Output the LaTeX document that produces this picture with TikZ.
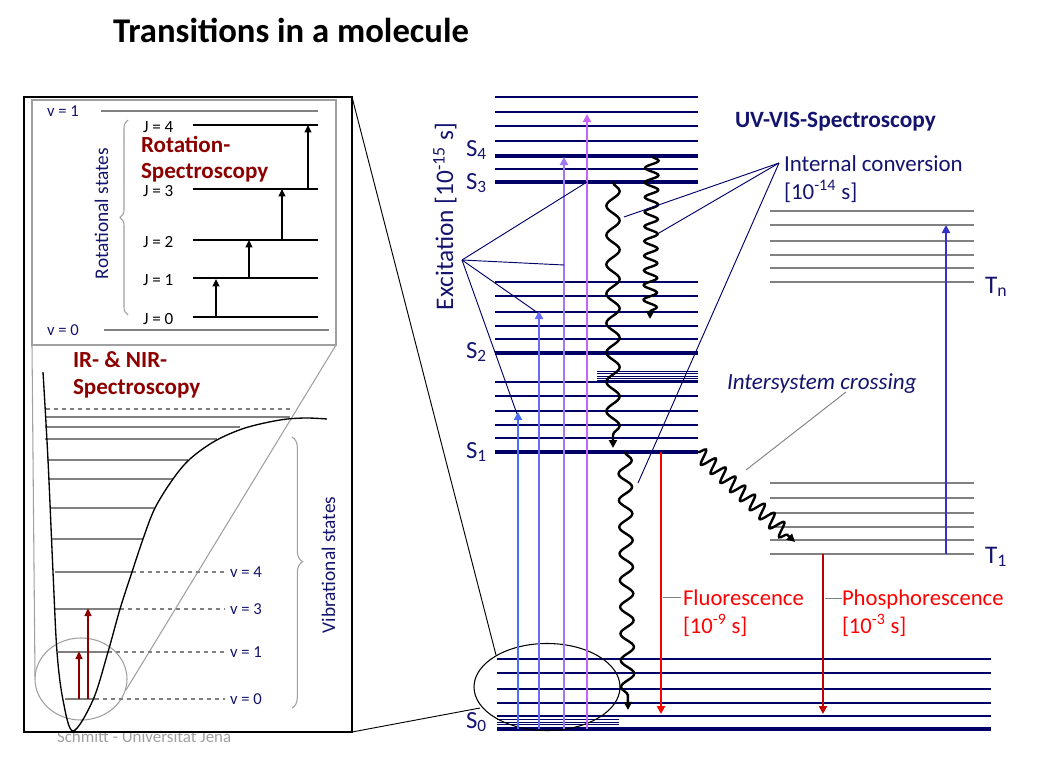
\documentclass[tikz,border=0pt]{standalone}
\usepackage{fontspec}
\setmainfont{Carlito}
\usetikzlibrary{arrows.meta,decorations.pathmorphing,decorations.pathreplacing}
\definecolor{navy}{RGB}{0,0,102}
\definecolor{navytext}{RGB}{20,20,110}
\definecolor{dred}{RGB}{140,0,0}
\definecolor{fred}{RGB}{255,0,0}
\definecolor{pred}{RGB}{192,0,0}
\definecolor{exA}{RGB}{70,110,250}
\definecolor{exB}{RGB}{105,105,250}
\definecolor{exC}{RGB}{160,120,245}
\definecolor{exD}{RGB}{200,100,245}
\definecolor{tblue}{RGB}{50,50,200}
\definecolor{lgray}{RGB}{128,128,128}
\definecolor{fgray}{RGB}{160,160,160}
\tikzset{
  lvl/.style={navy, line width=1.1pt},
  lvlT/.style={navy, line width=2.3pt},
  lvlS/.style={navy, line width=0.5pt},
  tlvl/.style={lgray, line width=1pt},
  tlvlT/.style={lgray, line width=2.2pt},
  exarrow/.style={line width=1.6pt, -{Triangle[length=6pt,width=6pt]}},
  rarrow/.style={line width=1.3pt, -{Triangle[length=5.5pt,width=5pt]}},
  wave/.style={line width=1.8pt, -{Triangle[length=6pt,width=6pt]}, decorate},
  ptr/.style={navy, line width=0.7pt},
  gptr/.style={lgray, line width=0.7pt},
  irl/.style={lgray, line width=0.8pt},
  ird/.style={lgray, line width=0.8pt, dashed},
  lbl/.style={inner sep=0pt, outer sep=0pt},
}
\begin{document}
\begin{tikzpicture}[x=0.75pt,y=-0.75pt]
\useasboundingbox (0,0) rectangle (1043,760);

% ---------- title ----------
\node[lbl, anchor=base west, font=\fontsize{26}{30}\selectfont\bfseries] (title) at (113,42) {Transitions in a molecule};

% ---------- footnote (behind box) ----------
\node[lbl, anchor=base west, text=fgray, font=\fontsize{12.7}{15}\selectfont] (foot) at (57,742) {Schmitt - Universitat Jena};

% ---------- left box ----------
\draw[black, line width=0.8pt, fill=white] (24,97) rectangle (352,732);
\draw[fgray, line width=0.8pt] (32,100) rectangle (336,345);
\coordinate (ibl) at (32,345);
\coordinate (ibr) at (336,345);
\draw[fgray, line width=0.8pt] (81,679) ellipse [x radius=46, y radius=41];
\coordinate (elL) at (35,677);
\coordinate (elR) at (126,690);
\draw[fgray, line width=0.8pt] (ibl) -- (elL);
\draw[fgray, line width=0.8pt] (ibr) -- (elR);

% rotational box
\draw[lgray, line width=1.4pt] (101,111) -- (318,111);
\draw[lgray, line width=1.8pt] (104,330) -- (329,330);
\node[lbl, anchor=west, text=navytext, font=\fontsize{12.5}{15}\selectfont] (v1r) at (47,111) {v = 1};
\node[lbl, anchor=west, text=navytext, font=\fontsize{12.5}{15}\selectfont] (v0r) at (47,330) {v = 0};
\foreach \y/\j in {125/4,189/3,240/2,278/1,317/0}{
  \draw[black, line width=1pt] (193,\y) -- (318,\y);
  \node[lbl, anchor=west, font=\fontsize{12.8}{15}\selectfont] (J\j) at (143,\y+2) {J = \j};
}
\draw[rarrow] (216,317) -- (216,279);
\draw[rarrow] (249,278) -- (249,240);
\draw[rarrow] (282,240) -- (282,189);
\draw[rarrow] (308,189) -- (308,125);
\draw[fgray, line width=0.8pt, decorate, decoration={brace, amplitude=6pt}] (128,315) -- (128,120);
\node[lbl, anchor=base west, rotate=90, text=navytext, font=\fontsize{14.5}{17}\selectfont] (rotst) at (108,279) {Rotational states};
\node[lbl, anchor=base west, text=dred, font=\fontsize{17.3}{20}\selectfont\bfseries] (rot1) at (141,152) {Rotation-};
\node[lbl, anchor=base west, text=dred, font=\fontsize{17.3}{20}\selectfont\bfseries] (rot2) at (141,178) {Spectroscopy};

% vibrational part
\node[lbl, anchor=base west, text=dred, font=\fontsize{17.3}{20}\selectfont\bfseries] (ir1) at (73,367) {IR- \& NIR-};
\node[lbl, anchor=base west, text=dred, font=\fontsize{17.3}{20}\selectfont\bfseries] (ir2) at (73,394) {Spectroscopy};
\draw[ird] (46,409) -- (292,409);
\foreach \y/\a/\b in {417/46/290,427/45/240,439/45/217,460/47/188,479/48/173,508/50/155,539/51/143,572/55/132,609/55/120,652/58/108,699/65/95}{
  \draw[irl] (\a,\y) -- (\b,\y);
}
\foreach \y/\b/\v in {572/132/4,609/120/3,652/108/1,699/95/0}{
  \draw[ird] (\b,\y) -- (225,\y);
  \node[lbl, anchor=west, text=navytext, font=\fontsize{12.5}{15}\selectfont] (vv\v) at (230,\y) {v = \v};
}
\draw[black, line width=1pt] plot[smooth, tension=0.55] coordinates {(43,372) (48,460) (53,572) (57,652) (63,700) (73,731) (93,700) (108,652) (120,609) (132,572) (143,539) (155,508) (173,479) (190,459) (215,441) (245,428) (280,420) (305,418) (327,419)};
\draw[dred, line width=1.5pt, -{Triangle[length=6pt,width=5pt]}] (79,699) -- (79,651);
\draw[dred, line width=1.5pt, -{Triangle[length=6pt,width=5pt]}] (88,699) -- (88,608);
\draw[fgray, line width=0.8pt, decorate, decoration={brace, amplitude=8pt, aspect=0.46}] (292,437) -- (292,708);
\node[lbl, anchor=base west, rotate=90, text=navytext, font=\fontsize{14.5}{17}\selectfont] (vibst) at (335,633) {Vibrational states};

% ---------- zoom connectors ----------
\coordinate (boxTR) at (352,97);
\coordinate (boxBR) at (352,732);
\coordinate (reT) at (496,655);
\coordinate (reB) at (480,708);
\draw[black, line width=0.7pt] (boxTR) -- (reT);
\draw[black, line width=0.7pt] (boxBR) -- (reB);

% ---------- singlet levels ----------
\foreach \y in {97,112,126,141,169,282,296,312,326,339,382,396,411,425,438}{
  \draw[lvl] (495,\y) -- (698,\y);
}
\foreach \y in {156,182,353,452}{
  \draw[lvlT] (495,\y) -- (698,\y);
}
\foreach \y in {371.5,373.7,375.9,378.1,380.3}{
  \draw[lvlS] (597,\y) -- (698,\y);
}
\foreach \y in {659,673,689,703,716}{
  \draw[lvl] (497,\y) -- (991,\y);
}
\foreach \y in {719.3,722,724.7}{
  \draw[lvlS] (497,\y) -- (619,\y);
}
\draw[lvlT] (497,729) -- (991,729);

% ---------- triplet levels ----------
\foreach \y in {211,225,241,255,268,483,498,513,527,540}{
  \draw[tlvl] (770,\y) -- (974,\y);
}
\draw[tlvlT] (770,282) -- (974,282);
\draw[tlvlT] (770,554) -- (974,554);

% right ellipse
\draw[black, line width=0.8pt] (547,687) ellipse [x radius=73, y radius=43.5];

% ---------- labels on the ladder ----------
\foreach \y/\n in {156/4,189/3,358/2,458/1,728/0}{
  \node[lbl, anchor=base west, text=navytext, font=\fontsize{18.5}{22}\selectfont] (S\n) at (466,\y) {S\textsubscript{\n}};
}
\node[lbl, anchor=base west, text=navytext, font=\fontsize{19}{22}\selectfont] (Tn) at (985,293) {T\textsubscript{n}};
\node[lbl, anchor=base west, text=navytext, font=\fontsize{19}{22}\selectfont] (T1) at (985,563) {T\textsubscript{1}};
\node[lbl, anchor=base west, rotate=90, text=navytext, font=\fontsize{19}{22}\selectfont] (exc) at (453,310) {Excitation [10\textsuperscript{-15} s]};
\node[lbl, anchor=base west, text=navytext, font=\fontsize{17.5}{20}\selectfont\bfseries] (uvvis) at (735,127) {UV-VIS-Spectroscopy};
\node[lbl, anchor=base west, text=navytext, font=\fontsize{17.2}{20}\selectfont] (ic1) at (784,171) {Internal conversion};
\node[lbl, anchor=base west, text=navytext, font=\fontsize{17.2}{20}\selectfont] (ic2) at (784,199) {[10\textsuperscript{-14} s]};
\node[lbl, anchor=base west, text=navytext, font=\fontsize{17.3}{20}\selectfont\itshape] (isc) at (727,389) {Intersystem crossing};
\node[lbl, anchor=base west, text=fred, font=\fontsize{17}{20}\selectfont] (fl1) at (683,605) {Fluorescence};
\node[lbl, anchor=base west, text=fred, font=\fontsize{17}{20}\selectfont] (fl2) at (683,633) {[10\textsuperscript{-9} s]};
\node[lbl, anchor=base west, text=fred, font=\fontsize{17}{20}\selectfont] (ph1) at (842,605) {Phosphorescence};
\node[lbl, anchor=base west, text=fred, font=\fontsize{17}{20}\selectfont] (ph2) at (842,633) {[10\textsuperscript{-3} s]};

% ---------- excitation arrows ----------
\draw[exarrow, exA] (518,729) -- (518,412);
\draw[exarrow, exB] (539,729) -- (539,311);
\draw[exarrow, exC] (564,729) -- (564,157);
\draw[exarrow, exD] (587,729) -- (587,114);
\draw[exarrow, tblue] (946,554) -- (946,225);
\draw[exarrow, fred] (661,452) -- (661,714);
\draw[exarrow, pred] (823,554) -- (823,714);

% ---------- wavy arrows ----------
\draw[wave, decoration={snake, amplitude=5pt, segment length=22pt, post length=5pt}] (613,182) -- (613,448);
\draw[wave, decoration={snake, amplitude=5pt, segment length=11pt, post length=5pt}] (652,156) -- (650,319);
\draw[wave, decoration={snake, amplitude=5pt, segment length=20pt, post length=5pt}] (625,452) -- (628,710);
\draw[wave, decoration={snake, amplitude=5.5pt, segment length=10pt, post length=6pt}] (698,452) -- (795,542);

% ---------- pointers ----------
\coordinate (excA) at (462,260);
\draw[ptr] (excA) -- (587,182);
\draw[ptr] (excA) -- (564,265);
\draw[ptr] (excA) -- (538,313);
\draw[ptr] (excA) -- (517,414);
\coordinate (icA) at (779,163);
\draw[ptr] (icA) -- (624,217);
\draw[ptr] (icA) -- (659,233);
\draw[ptr] (icA) -- (638,483);
\draw[gptr] (846,392) -- (746,470);
\draw[gptr] (663,597) -- (681,597);
\draw[gptr] (825,598) -- (842,598);
\end{tikzpicture}
\end{document}
